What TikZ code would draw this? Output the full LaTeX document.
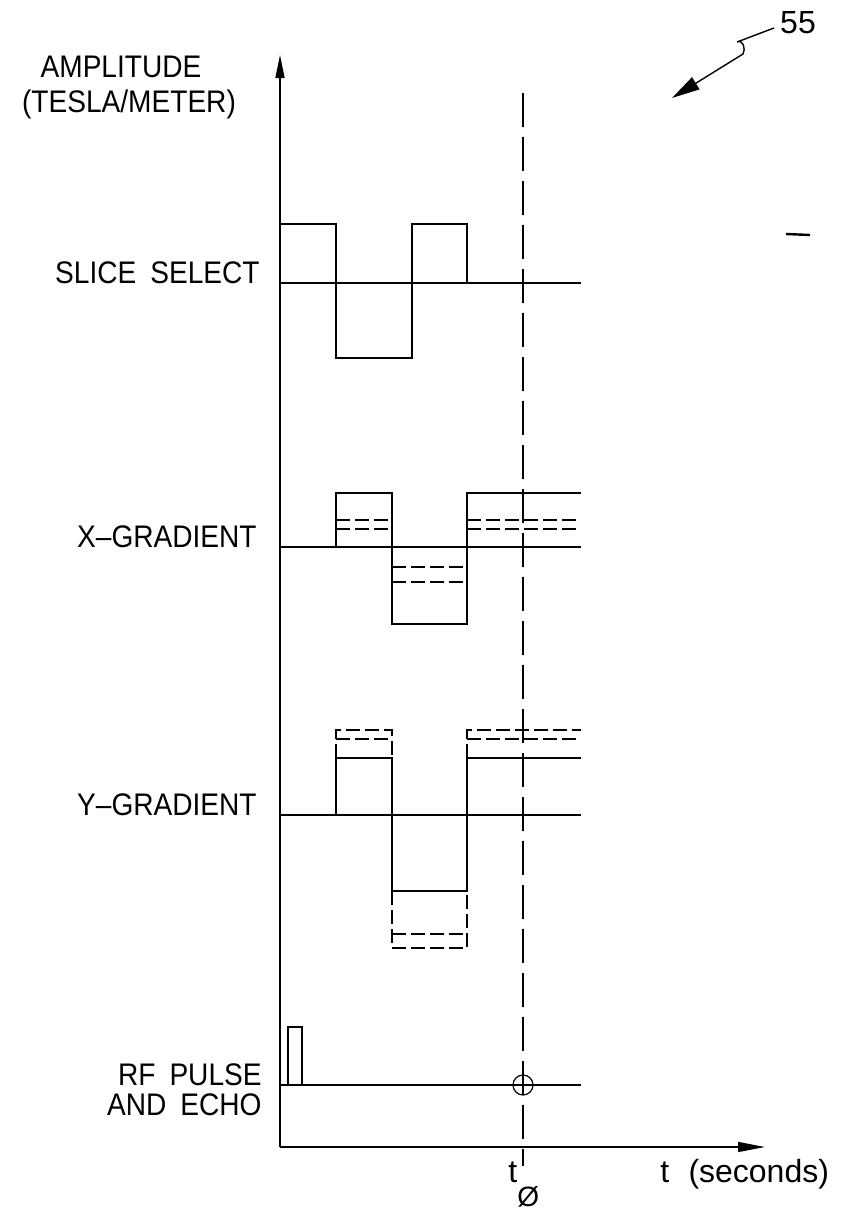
\documentclass[tikz,border=0pt]{standalone}
\usepackage{fontspec}
\setmainfont{Liberation Sans}
\newfontfamily\cadfont[FakeStretch=0.9]{Liberation Sans}
\usetikzlibrary{arrows.meta}
\begin{document}
\begin{tikzpicture}[x=0.5pt,y=-0.5pt,
  wave/.style={line width=1.0pt, line join=miter},
  base/.style={line width=0.7pt},
  dsh/.style={line width=0.8pt, dash pattern=on 7pt off 2.5pt},
  tline/.style={line width=0.7pt, dash pattern=on 17pt off 5pt},
  lbl/.style={font=\cadfont\fontsize{15.6}{18}\selectfont, inner sep=0pt},
  tlbl/.style={font=\fontsize{16}{18}\selectfont, inner sep=0pt}]
\useasboundingbox (0,0) rectangle (849,1210);

% axes
\coordinate (O) at (280,1147);
\coordinate (ytip) at (280,55);
\coordinate (xtip) at (765,1147);
\draw[base, -{Triangle[length=11.5pt,width=4.5pt]}] (O) -- (ytip);
\draw[base, -{Triangle[length=13.5pt,width=5pt]}] (O) -- (xtip);

% time marker
\coordinate (t0top) at (523,93);
\coordinate (t0bot) at (523,1166);
\draw[tline] (t0top) -- (t0bot);

% labels
\node[lbl, anchor=base] (amp) at (121,77) {AMPLITUDE};
\node[lbl, anchor=base] (unit) at (129,112) {(TESLA/METER)};
\node[lbl, anchor=base east] (ss) at (260,283) {SLICE\hspace{0.45em}SELECT};
\node[lbl, anchor=base east] (xg) at (257,547) {X–GRADIENT};
\node[lbl, anchor=base east] (yg) at (257,815) {Y–GRADIENT};
\node[lbl, anchor=base east] (rf1) at (262,1085) {RF\hspace{0.45em}PULSE};
\node[lbl, anchor=base east] (rf2) at (262,1115) {AND\hspace{0.45em}ECHO};
\node[tlbl, anchor=base west] (tsec) at (660,1182) {t\hspace{0.6em}(seconds)};
\node[tlbl, anchor=base west] (tzero) at (508,1182) {t\raisebox{-12pt}{\fontsize{14}{14}\selectfont Ø}};
\node[tlbl, anchor=base] (ref) at (798,33) {55};

% reference leader
\coordinate (la) at (774,28);
\coordinate (lb) at (737,42);
\coordinate (lc) at (743,54);
\coordinate (ltip) at (672,98);
\draw[base, -{Triangle[length=14pt,width=7pt]}] (la) -- (lb) .. controls (743,39) and (746,49) .. (lc) -- (ltip);

% stray mark
\draw[line width=1.2pt] (786,234) -- (810,235);

% SLICE SELECT
\draw[base] (280,283) -- (581,283);
\draw[wave] (280,224) -- (336,224) -- (336,358) -- (412,358) -- (412,224) -- (467,224) -- (467,283);

% X-GRADIENT
\draw[base] (280,547) -- (581,547);
\draw[wave] (336,547) -- (336,493) -- (392,493) -- (392,624) -- (467,624) -- (467,493) -- (581,493);
\draw[dsh] (336,520) -- (392,520);
\draw[dsh] (336,529) -- (392,529);
\draw[dsh] (392,567) -- (467,567);
\draw[dsh] (392,582) -- (467,582);
\draw[dsh] (467,520) -- (581,520);
\draw[dsh] (467,529) -- (581,529);

% Y-GRADIENT
\draw[base] (280,815) -- (581,815);
\draw[wave] (336,815) -- (336,758) -- (392,758) -- (392,891) -- (467,891) -- (467,758) -- (581,758);
\draw[dsh] (336,758) -- (336,730) -- (392,730) -- (392,758);
\draw[dsh] (336,739) -- (392,739);
\draw[dsh] (467,758) -- (467,730) -- (581,730);
\draw[dsh] (467,739) -- (581,739);
\draw[dsh] (392,891) -- (392,948) -- (467,948) -- (467,891);
\draw[dsh] (392,934) -- (467,934);

% RF PULSE AND ECHO
\draw[base] (280,1085) -- (581,1085);
\draw[base] (288,1085) -- (288,1027) -- (302,1027) -- (302,1085);
\node[draw, circle, line width=0.6pt, minimum size=10pt, inner sep=0pt] (echo) at (523,1085) {};
\end{tikzpicture}
\end{document}
